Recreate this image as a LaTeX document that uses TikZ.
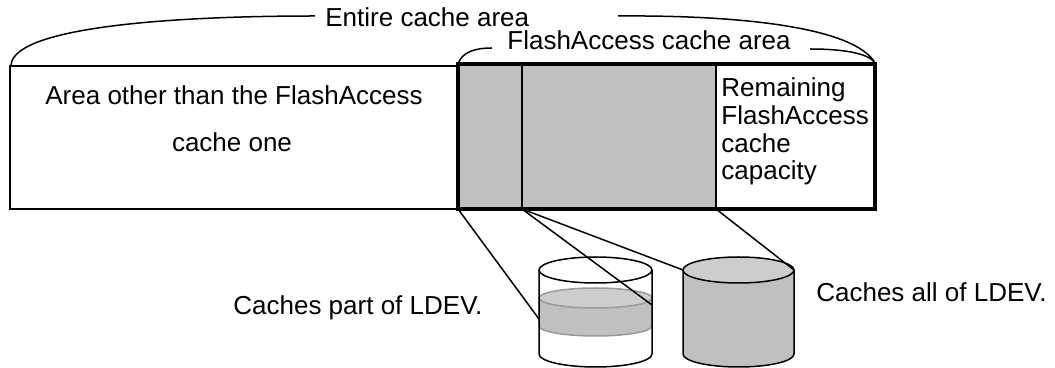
\documentclass[tikz,border=0pt]{standalone}
\usepackage{fontspec}
\setmainfont{Liberation Sans}
\usetikzlibrary{calc}
\definecolor{cachegray}{HTML}{C0C0C0}
\definecolor{toplight}{HTML}{CDCDCD}
\definecolor{bandedge}{HTML}{9A9A9A}

\begin{document}
\begin{tikzpicture}[x=0.5pt, y=-0.5pt,
		thinline/.style={line width=0.75pt},
		thickline/.style={line width=1.75pt},
		txt/.style={font=\fontsize{13}{14}\selectfont, inner sep=0pt}]
		%%%%% START %%%%%
		\useasboundingbox (0,0) rectangle (1055,368);
		
		\draw[thinline] (10,66) rectangle (458,209);
		
		\fill[cachegray] (458,64) rectangle (716,209);
		\draw[thinline] (522,64) -- (522,209);
		\draw[thinline] (716,64) -- (716,209);
		\draw[thickline] (458,64) rectangle (875,209);
		
		\coordinate (fabl) at (458,209);
		\coordinate (divb) at (522,209);
		\coordinate (rembl) at (716,209);
		\coordinate (entl) at (315,16);
		\coordinate (entr) at (618,16);
		\coordinate (fal) at (492,48);
		\coordinate (far) at (810,49);
		
		\draw[thinline] (11,66) .. controls (11,30) and (150,16) .. (entl);
		\draw[thinline] (entr) .. controls (745,15) and (855,28) .. (875,63);
		\draw[thinline] (458,64) .. controls (462,52) and (475,48) .. (fal);
		\draw[thinline] (far) .. controls (850,49) and (870,55) .. (875,63);
		
		\node[txt, anchor=base west] (entire) at (325,27) {Entire cache area};
		\node[txt, anchor=base west] (flashacc) at (507,50) {FlashAccess cache area};
		\node[txt, anchor=base] (other1) at (234,105) {Area other than the FlashAccess};
		\node[txt, anchor=base] (other2) at (232,152) {cache one};
		% base of a multi-line node sits on its last line
		\node[txt, anchor=base west, align=left, font=\fontsize{13}{13.85}\selectfont] (remain) at (721,180) {Remaining\\FlashAccess\\cache\\capacity};
		
		% part cylinder
		\fill[white] (539,270) -- (539,354) arc[start angle=180, end angle=360, x radius=28.25pt, y radius=6.5pt] -- (652,270) -- cycle;
		\draw[draw=bandedge, fill=cachegray, thinline] (539,298) -- (539,326) arc[start angle=180, end angle=360, x radius=28.25pt, y radius=5pt] -- (652,298) -- cycle;
		\draw[draw=bandedge, fill=toplight, thinline] (595.5,298) ellipse [x radius=28.25pt, y radius=5pt];
		\draw[thinline] (539,270) -- (539,354) arc[start angle=180, end angle=360, x radius=28.25pt, y radius=6.5pt] -- (652,270);
		\draw[thinline, fill=white] (595.5,270) ellipse [x radius=28.25pt, y radius=6.5pt];
		
		% all cylinder
		\draw[thinline, fill=cachegray] (683,270) -- (683,354) arc[start angle=180, end angle=360, x radius=27.75pt, y radius=6.5pt] -- (794,270);
		\draw[thinline, fill=toplight] (738.5,270) ellipse [x radius=27.75pt, y radius=6.5pt];
		
		\coordinate (pcl) at (539,319);
		\coordinate (pcr) at (652,305);
		\coordinate (acl) at (683,270);
		\coordinate (acr) at (794,270);
		
		\draw[thinline] (fabl) -- (pcl);
		\draw[thinline] (divb) -- (pcr);
		\draw[thinline] (divb) -- (acl);
		\draw[thinline] (rembl) -- (acr);
		
		\node[txt, anchor=base west] (partldev) at (233,315) {Caches part of LDEV.};
		\node[txt, anchor=base east] (allldev) at (1047,302) {Caches all of LDEV.};
		%%%%% END %%%%%
	\end{tikzpicture}
\end{document}
